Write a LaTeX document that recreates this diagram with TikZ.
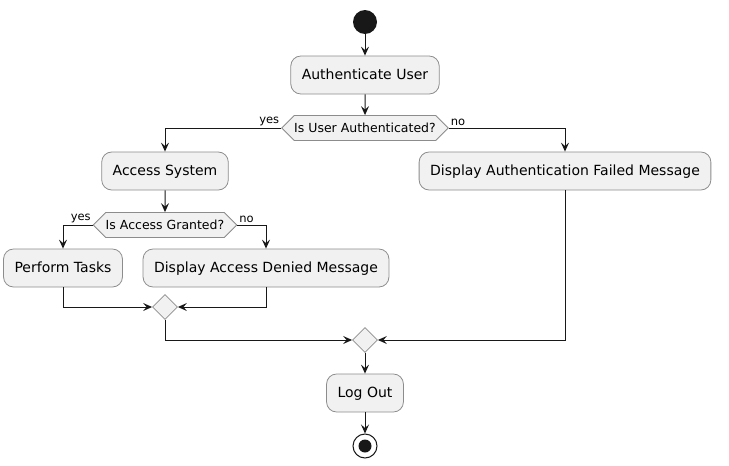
\documentclass[tikz,border=0pt]{standalone}
\usepackage{fontspec}
\setmainfont{DejaVu Sans}
\usepackage{tikz}
\usetikzlibrary{positioning,arrows.meta}
\usetikzlibrary{shapes.geometric,shapes.symbols}
\definecolor{boxfill}{HTML}{F1F1F1}
\definecolor{boxline}{HTML}{8C8C8C}
\definecolor{flowline}{HTML}{181818}
\tikzset{
	action/.style={draw=boxline, fill=boxfill, line width=0.8pt, rounded corners=10pt, minimum height=38pt, inner xsep=11pt, inner ysep=0pt, font=\fontsize{14}{16}\selectfont, text height=10pt, text depth=1pt},
	decision/.style={draw=boxline, fill=boxfill, line width=0.8pt, signal, signal to=west and east, signal pointer angle=90, minimum height=25pt, inner xsep=0pt, inner ysep=0pt, font=\fontsize{12.5}{14}\selectfont, text height=9pt, text depth=0pt},
	merge/.style={draw=boxline, fill=boxfill, line width=0.8pt, diamond, minimum size=25pt, inner sep=0pt},
	flow/.style={draw=flowline, line width=1pt, -{Stealth[length=9pt,width=8pt,inset=3.5pt]}},
	guard/.style={inner sep=1.5pt, font=\fontsize{11.5}{13}\selectfont},
}

\begin{document}
\begin{tikzpicture}[x=1pt, y=1pt, node distance=53pt, on grid]
    \useasboundingbox (0,0) rectangle (729,-466);
    \node[circle, fill=flowline, minimum size=24pt, inner sep=0pt] (start) at (365,-22) {};
    \node[action, below=of start] (auth) {Authenticate User};
    \node[decision, below=of auth] (userok) {Is User Authenticated?};

    \node[action, below left=43pt and 200pt of userok] (access) {Access System};
    \node[action, below right=43pt and 200pt of userok] (failed) {Display Authentication Failed Message};

    \node[decision, below=54pt of access] (granted) {Is Access Granted?};
    \node[action, below left=43pt and 102pt of granted] (tasks) {Perform Tasks};
    \node[action, below right=43pt and 101pt of granted] (denied) {Display Access Denied Message};

    \node[merge, below=82pt of granted] (join1) {};
    \node[merge, below right=33pt and 200pt of join1] (join2) {};
    \node[action, below=of join2] (logout) {Log Out};
    \node[circle, draw=flowline, fill=white, line width=1pt, minimum size=24pt, inner sep=0pt,
          path picture={\fill[flowline] (path picture bounding box.center) circle (6.5pt);},
          below=of logout] (stop) {};

    \draw[flow] (start) -- (auth);
    \draw[flow] (auth) -- (userok);
    \draw[flow] (userok.west) -| node[guard, pos=0, anchor=south east] {yes} (access.north);
    \draw[flow] (userok.east) -| node[guard, pos=0, anchor=south west] {no} (failed.north);

    \draw[flow] (access) -- (granted);
    \draw[flow] (granted.west) -| node[guard, pos=0, anchor=south east] {yes} (tasks.north);
    \draw[flow] (granted.east) -| node[guard, pos=0, anchor=south west] {no} (denied.north);

    \draw[flow] (tasks.south) |- (join1.west);
    \draw[flow] (denied.south) |- (join1.east);
    \draw[flow] (join1.south) |- (join2.west);
    \draw[flow] (failed.south) |- (join2.east);

    \draw[flow] (join2) -- (logout);
    \draw[flow] (logout) -- (stop);
\end{tikzpicture}
\end{document}
